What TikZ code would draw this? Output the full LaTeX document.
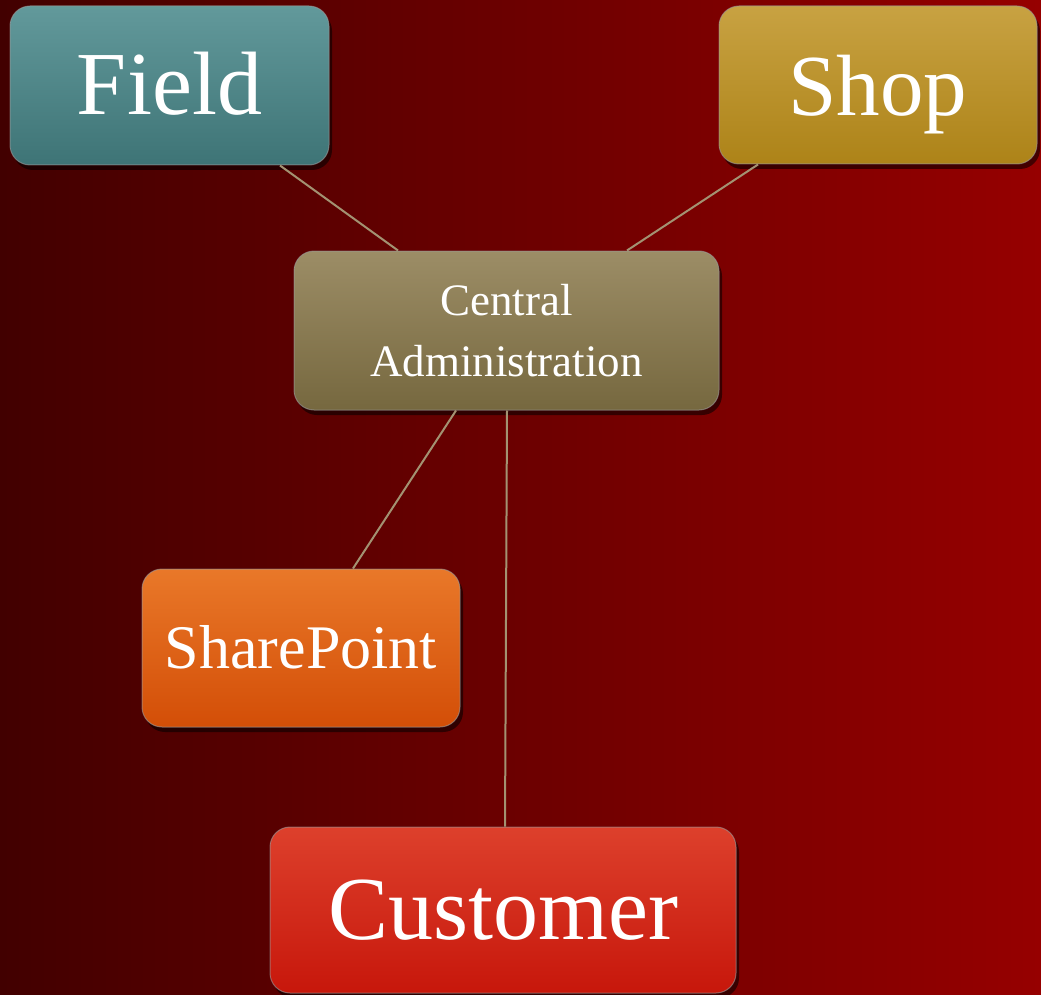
\documentclass[tikz,border=0pt]{standalone}
\usepackage{fontspec}
\setmainfont{Liberation Serif}
\usetikzlibrary{shadows}
\definecolor{bgL}{HTML}{420000}
\definecolor{bgR}{HTML}{960000}
\definecolor{fieldT}{HTML}{62999B}
\definecolor{fieldB}{HTML}{3E7476}
\definecolor{shopT}{HTML}{C8A242}
\definecolor{shopB}{HTML}{AD8318}
\definecolor{centT}{HTML}{9C8D66}
\definecolor{centB}{HTML}{76683F}
\definecolor{spT}{HTML}{E97829}
\definecolor{spB}{HTML}{D34E07}
\definecolor{custT}{HTML}{DD402C}
\definecolor{custB}{HTML}{C7170B}
\definecolor{link}{HTML}{A39272}
\tikzset{
  box/.style={rounded corners=20pt, draw=black!40, draw opacity=0.6, line width=1pt,
    text=white, inner sep=0pt, text depth=0pt,
    drop shadow={shadow xshift=3pt, shadow yshift=-5pt, opacity=0.55, fill=black}},
  conn/.style={draw=link, line width=2pt}
}
\begin{document}
\begin{tikzpicture}[x=1pt,y=-1pt]
\useasboundingbox (0,0) rectangle (1041,995);
\shade[left color=bgL, right color=bgR] (0,0) rectangle (1041,995);
\node[box, top color=fieldT, bottom color=fieldB, minimum width=319pt, minimum height=159pt,
  font=\fontsize{90}{100}\selectfont, text height=59pt] (field) at (169.5,85.5) {Field};
\node[box, top color=shopT, bottom color=shopB, minimum width=318pt, minimum height=158pt,
  font=\fontsize{87}{100}\selectfont, text height=62pt] (shop) at (878,85) {Shop};
\node[box, top color=centT, bottom color=centB, minimum width=425pt, minimum height=159pt,
  font=\fontsize{45}{61}\selectfont, align=center, text depth=] (central) at (506.5,330.5) {Central\\Administration};
\node[box, top color=spT, bottom color=spB, minimum width=318pt, minimum height=158pt,
  font=\fontsize{62}{70}\selectfont, text height=41pt] (sp) at (301,648) {SharePoint};
\node[box, top color=custT, bottom color=custB, minimum width=466pt, minimum height=166pt,
  font=\fontsize{90}{100}\selectfont, text height=59pt] (cust) at (503,910) {Customer};
\draw[conn] ([xshift=110.5pt]field.south) -- ([xshift=-108.5pt]central.north);
\draw[conn] ([xshift=-120pt]shop.south) -- ([xshift=120.5pt]central.north);
\draw[conn] ([xshift=-50.5pt]central.south) -- ([xshift=52pt]sp.north);
\draw[conn] ([xshift=0.5pt]central.south) -- ([xshift=2pt]cust.north);
\end{tikzpicture}
\end{document}
